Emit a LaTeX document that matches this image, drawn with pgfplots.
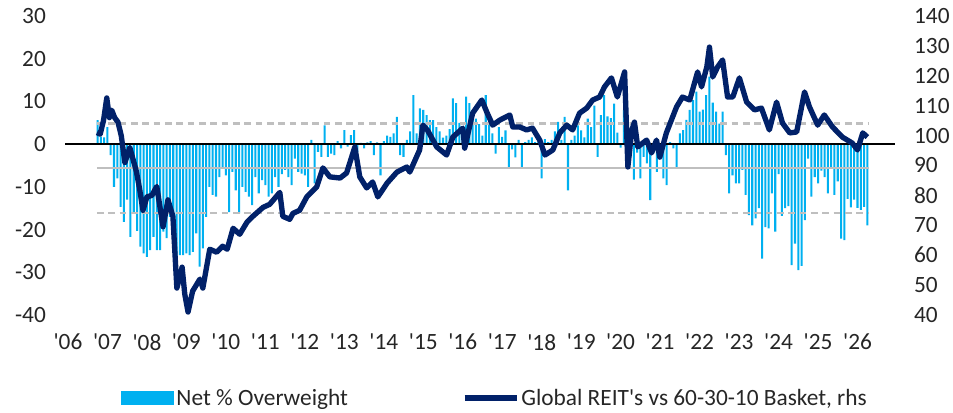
\documentclass[border=0pt]{standalone}
\usepackage{fontspec}
\setmainfont{Carlito}
\usepackage{pgfplots}
\pgfplotsset{compat=1.18}
\definecolor{barblue}{RGB}{0,176,240}
\definecolor{navy}{RGB}{1,33,105}
\definecolor{refgray}{RGB}{191,191,191}
\definecolor{txt}{RGB}{38,38,38}
\newcommand{\q}{\textquotesingle}
\begin{document}
\begin{tikzpicture}
\path[use as bounding box] (0,0) rectangle (714.75pt,309.75pt);
\begin{axis}[
  at={(48.75pt,73.5pt)}, anchor=south west,
  scale only axis, width=622.5pt, height=224.25pt,
  xmin=-9.9, xmax=242.4, ymin=-40, ymax=30,
  axis x line*=bottom, axis y line*=left,
  axis line style={draw=none},
  major tick length=0pt,
  xtick={-9,3,15,27,39,51,63,75,87,99,111,123,135,147,159,171,183,195,207,219,231},
  xticklabels={\q06,\q07,\q08,\q09,\q10,\q11,\q12,\q13,\q14,\q15,\q16,\q17,\q18,\q19,\q20,\q21,\q22,\q23,\q24,\q25,\q26},
  ytick={-40,-30,...,30},
  tick label style={font=\fontsize{17.5}{20}\selectfont, text=txt},
  /pgf/number format/assume math mode=true,
  yticklabel style={xshift=-10.8pt},
  xticklabel style={yshift=-10.8pt},
  legend columns=2,
  legend style={at={(0.518,-0.278)}, anchor=center, draw=none, fill=none,
    font=\fontsize{17.5}{20}\selectfont, text=txt,
    nodes={inner xsep=1.5pt},
    /tikz/every even column/.append style={column sep=84pt}},
  legend cell align=left,
]
\addplot[ybar, bar width=0.62, bar shift=0pt, fill=barblue, draw=none,
  legend image code/.code={\fill[barblue] (0pt,-5.5pt) rectangle (40pt,5.5pt);}]
coordinates {
(0,5.6) (1,1.7) (2,1.6) (3,4) (4,-2.6) (5,-10) (6,-8) (7,-14.7) (8,-18.2) (9,-13)
(10,-21.7) (11,-16.3) (12,-20.3) (13,-24) (14,-25.6) (15,-26.4) (16,-24.8) (17,-21.7) (18,-24.8) (19,-24.8)
(20,-20.5) (21,-22) (22,-17) (23,-25) (24,-27) (25,-26) (26,-26) (27,-25.6) (28,-26) (29,-25.2)
(30,-20.9) (31,-28.7) (32,-24.4) (33,-17) (34,-10) (35,-11.9) (36,-12.3) (37,-7.7) (38,-5.3) (39,-7.3)
(40,-15.9) (41,-6.5) (42,-10.8) (43,-16.2) (44,-10) (45,-11.2) (46,-12.3) (47,-14.3) (48,-7.7) (49,-11.5)
(50,-8.4) (51,-9.6) (52,-12.3) (53,-11.5) (54,-7.7) (55,-10) (56,-7) (57,-6) (58,-7.7) (59,-9.6)
(60,-3.4) (61,-6.5) (62,-6.9) (63,-7.3) (64,-10) (65,1) (66,-9.2) (67,-1.8) (68,-3) (69,4.4)
(70,-3) (71,-2.2) (72,-2.6) (73,0.7) (74,-1) (75,3.3) (76,-0.6) (77,2.1) (78,3.3) (79,-1.8)
(80,0.3) (81,-1) (82,0.4) (83,0.7) (84,-2.6) (85,0.4) (86,-7.3) (87,0.7) (88,2) (89,1.7)
(90,2.5) (91,6.4) (92,-2.6) (93,-3) (94,1) (95,3) (96,11.5) (97,2.5) (98,8.4) (99,8)
(100,6.8) (101,5.6) (102,5.6) (103,4) (104,3) (105,1.5) (106,2) (107,3.5) (108,10.7) (109,9.6)
(110,5) (111,3) (112,11.1) (113,9.6) (114,7.8) (115,6) (116,4.7) (117,2) (118,11.5) (119,7)
(120,2.5) (121,-2.2) (122,4) (123,1.7) (124,3.2) (125,-5.3) (126,-1.2) (127,-3.1) (128,1) (129,-5.3)
(130,0.5) (131,1) (132,1.6) (133,0.5) (134,1) (135,-8) (136,1.2) (137,0.5) (138,1) (139,3)
(140,5.2) (141,1) (142,6.4) (143,-10.8) (144,1) (145,2) (146,4.4) (147,3.2) (148,1.6) (149,6)
(150,4) (151,9) (152,-3) (153,6.8) (154,11.5) (155,6.5) (156,6.1) (157,9.5) (158,2.7) (159,-0.8)
(160,8) (161,1) (162,-3) (163,-8.3) (164,-2) (165,-8) (166,-3) (167,-4.5) (168,-13.1) (169,-2)
(170,-6.5) (171,-3) (172,-8) (173,-9.6) (174,0.5) (175,-1) (176,-5.3) (177,2.5) (178,3.3) (179,5.7)
(180,8) (181,10.3) (182,12.3) (183,7.6) (184,8.1) (185,11.5) (186,15.8) (187,9.7) (188,7.6) (189,4.8)
(190,7.6) (191,-2.6) (192,-11.5) (193,-7.3) (194,-9.2) (195,-9.2) (196,-6) (197,-11.9) (198,-16.6) (199,-19)
(200,-17.4) (201,-15) (202,-26.8) (203,-19.4) (204,-19.7) (205,-11.5) (206,-20.5) (207,-7) (208,-16.8) (209,-15)
(210,-14.5) (211,-28.3) (212,-23.3) (213,-29.5) (214,-28.5) (215,-17.8) (216,-3.4) (217,-12.3) (218,-7.7) (219,-9.2)
(220,-6.2) (221,-7.7) (222,-11.5) (223,-5.4) (224,-11.9) (225,-8.7) (226,-22.1) (227,-22.5) (228,-12.8) (229,-14.8)
(230,-13) (231,-14.9) (232,-15.4) (233,-14.7) (234,-19)
};
\addlegendentry{Net \% Overweight}
\addplot[refgray, line width=2pt, dash pattern=on 5pt off 3.5pt, forget plot] coordinates {(-0.2,4.9) (234.4,4.9)};
\addplot[refgray, line width=2pt, forget plot] coordinates {(-0.2,-5.6) (234.4,-5.6)};
\addplot[refgray, line width=2pt, dash pattern=on 5pt off 3.5pt, forget plot] coordinates {(-0.2,-16.1) (234.4,-16.1)};
\addplot[black, line width=1pt, forget plot] coordinates {(-9.9,0) (242.4,0)};
\addlegendimage{legend image code/.code={\draw[navy, line width=4pt] (0pt,0pt) -- (39pt,0pt);}}
\addlegendentry{Global REIT\q s vs 60-30-10 Basket, rhs}
\end{axis}
\begin{axis}[
  at={(48.75pt,73.5pt)}, anchor=south west,
  scale only axis, width=622.5pt, height=224.25pt,
  xmin=-9.9, xmax=242.4, ymin=40, ymax=140,
  axis x line=none, axis y line*=right,
  axis line style={draw=none},
  major tick length=0pt,
  ytick={40,50,...,140},
  tick label style={font=\fontsize{17.5}{20}\selectfont, text=txt},
  /pgf/number format/assume math mode=true,
  yticklabel style={xshift=10.8pt},
]
\addplot[navy, line width=4pt, line join=round] coordinates {
(-0.2,101) (0.8,100.5) (1.8,105) (2.8,112.6) (3.6,106) (4.3,108.5) (5.2,106) (6.2,104.5) (7.2,100) (8.3,91)
(9.8,96) (10.8,92) (11.8,88) (12.8,82) (13.8,75) (15,79.5) (16.5,80) (18,83) (19.9,69.5) (21.4,78.5)
(22.9,73) (24.1,49) (25.7,56) (26.5,47) (27.5,41) (28.9,48) (30,50) (31.1,52) (32,49) (34.1,62)
(36.2,61) (38,63) (39.4,62) (41.2,69) (43.2,67) (45.4,71) (47.2,73) (50.3,76) (52.3,77) (55.4,81)
(56.3,73) (58.4,72) (59.4,74) (61.4,75) (63.6,79.5) (66.6,82.8) (68.5,89.2) (70.6,86.2) (73.7,85.8) (75.7,87.5)
(78.2,96.2) (79.7,86.2) (81.8,82.5) (83.6,84.5) (85.2,79.5) (88,84.1) (91,87.8) (94,89.5) (94.9,87.8) (97.9,95.2)
(98.9,103.5) (100.3,101.8) (103.1,96.2) (106.1,93.5) (108,99.5) (111,102.5) (111.6,95.8) (114,107.5) (116.8,111.9) (118.3,107.9)
(120.1,103.5) (122.3,105.2) (125.3,106.9) (126.2,102.9) (128.3,102.9) (130.4,101.9) (132.2,102.5) (134.4,98.5) (136,93.5) (138.4,95.2)
(140.5,100.9) (142.6,103.5) (144.4,101.9) (146.5,107.5) (148.7,109.2) (150.5,111.9) (152.6,112.9) (154.1,116.3) (156.2,119.3) (158,112.9)
(160.2,121.3) (161.2,89.5) (162.4,101.9) (163.2,104.5) (164.2,96.2) (166.9,98.5) (168.4,94.2) (169.9,98.5) (170.9,92.8) (172.9,100.9)
(176,109.6) (177.8,112.9) (180,111.9) (182.4,121.3) (183.6,116.3) (185.2,123) (186,129.6) (187,119.6) (188.5,123) (190,125.3)
(191.5,112.9) (193.1,112.9) (195.1,119.3) (197.3,111.2) (199.7,108.6) (201.8,109.2) (204.2,101.9) (206.4,111.2) (208.2,104.2) (210.4,100.9)
(212.5,101.2) (214.9,114.6) (216.4,109.6) (218.9,103.5) (220.9,106.9) (223.4,102.9) (226.4,99.5) (229.4,97.5) (231,95.2) (232.6,100.9)
(234,99.5)
};
\end{axis}
\end{tikzpicture}
\end{document}
